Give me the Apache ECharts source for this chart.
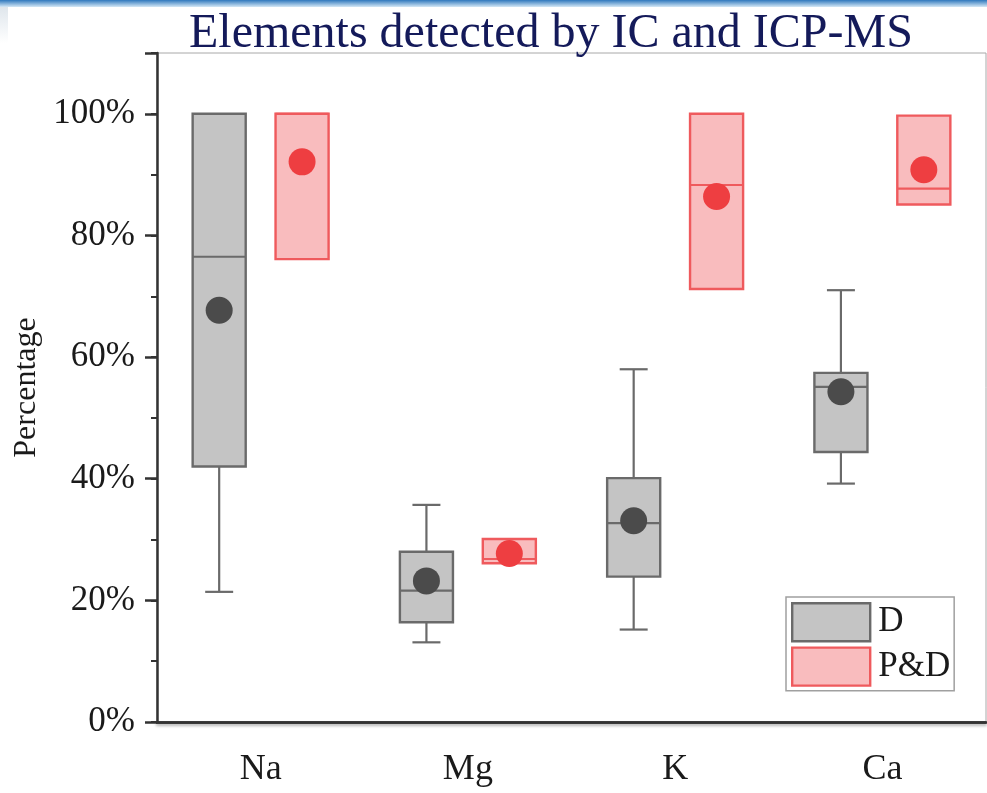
<!DOCTYPE html>
<html>
<head>
<meta charset="utf-8">
<script src="https://cdn.jsdelivr.net/npm/echarts@6/dist/echarts.min.js"></script>
<style>
  html, body { margin: 0; padding: 0; background: #ffffff; }
  #chart { width: 987px; height: 793px; }
</style>
</head>
<body>
<div id="chart"></div>
<script>
// Element categories
const elements = ['Na', 'Mg', 'K', 'Ca'];

// Group D: whisker ends, quartiles, median and mean (percent)
const dLow    = [21.4, 13.1, 15.2, 39.2];
const dQ1     = [42.0, 16.4, 23.9, 44.4];
const dMedian = [76.5, 21.6, 32.7, 55.1];
const dQ3     = [100.0, 28.0, 40.1, 57.4];
const dHigh   = [100.0, 35.7, 58.0, 71.0];
const dMean   = [67.7, 23.2, 33.1, 54.3];

// Group P&D (no whiskers: ends equal the quartiles)
const pdLow    = [76.1, 26.1, 71.2, 85.1];
const pdQ1     = [76.1, 26.1, 71.2, 85.1];
const pdMedian = [100.0, 26.8, 88.3, 87.7];
const pdQ3     = [100.0, 30.1, 100.0, 99.7];
const pdHigh   = [100.0, 30.1, 100.0, 99.7];
const pdMean   = [92.1, 27.7, 86.4, 90.8];

// Y axis tick labels
const yTicks = [0, 20, 40, 60, 80, 100];

const SERIF = '"Liberation Serif", "Times New Roman", serif';

function rows(low, q1, med, q3, high, mean) {
  return elements.map((_, i) => [i, low[i], q1[i], med[i], q3[i], high[i], mean[i]]);
}

function makeRenderer(look) {
  return function (params, api) {
    const cat = api.value(0);
    const band = api.size([1, 0])[0];
    const cx = api.coord([cat, 0])[0] + look.shift * band;
    const w = band * 0.256;
    const cap = band * 0.135;
    const y = (k) => api.coord([cat, api.value(k)])[1];
    const yLow = y(1), yQ1 = y(2), yMed = y(3), yQ3 = y(4), yHigh = y(5), yMean = y(6);
    const children = [];
    const wl = { stroke: look.line, lineWidth: 2.2 };
    if (Math.abs(yLow - yQ1) > 0.5) {
      children.push({ type: 'line', shape: { x1: cx, y1: yQ1, x2: cx, y2: yLow }, style: wl });
      children.push({ type: 'line', shape: { x1: cx - cap / 2, y1: yLow, x2: cx + cap / 2, y2: yLow }, style: wl });
    }
    if (Math.abs(yHigh - yQ3) > 0.5) {
      children.push({ type: 'line', shape: { x1: cx, y1: yQ3, x2: cx, y2: yHigh }, style: wl });
      children.push({ type: 'line', shape: { x1: cx - cap / 2, y1: yHigh, x2: cx + cap / 2, y2: yHigh }, style: wl });
    }
    children.push({
      type: 'rect',
      shape: { x: cx - w / 2, y: yQ3, width: w, height: yQ1 - yQ3 },
      style: { fill: look.fill, stroke: look.line, lineWidth: 2.4 }
    });
    children.push({ type: 'line', shape: { x1: cx - w / 2, y1: yMed, x2: cx + w / 2, y2: yMed }, style: wl });
    children.push({ type: 'circle', shape: { cx: cx, cy: yMean, r: 13.5 }, style: { fill: look.dot } });
    return { type: 'group', children: children };
  };
}

const lookD  = { shift: -0.2, fill: '#c4c4c4', line: '#6a6a6a', dot: '#4b4b4b' };
const lookPD = { shift: 0.2, fill: '#f9bcbe', line: '#ef5a5d', dot: '#ee3e41' };

const chart = echarts.init(document.getElementById('chart'), null, { renderer: 'canvas' });

const option = {
  animation: false,
  backgroundColor: '#ffffff',
  graphic: [
    {
      type: 'rect', left: 0, top: 0, z: -10,
      shape: { width: 987, height: 7 },
      style: {
        fill: new echarts.graphic.LinearGradient(0, 0, 0, 1, [
          { offset: 0, color: '#2f78bd' },
          { offset: 1, color: '#d4e8f6' }
        ])
      }
    },
    {
      type: 'rect', left: 0, top: 7, z: -10,
      shape: { width: 8, height: 36 },
      style: {
        fill: new echarts.graphic.LinearGradient(0, 0, 0, 1, [
          { offset: 0, color: '#dfe6ec' },
          { offset: 1, color: '#ffffff' }
        ])
      }
    },
    {
      type: 'text', left: 189, top: 10,
      style: {
        text: 'Elements detected by IC and ICP-MS',
        font: '48px ' + SERIF,
        fill: '#141a5a'
      }
    }
  ],
  grid: {
    left: 157, right: 1, top: 53, bottom: 71,
    show: true, borderColor: '#a8a8a8', borderWidth: 1
  },
  legend: {
    orient: 'vertical',
    left: 786, top: 597,
    padding: [5, 4, 4, 5],
    itemWidth: 78, itemHeight: 38, itemGap: 4,
    backgroundColor: '#ffffff',
    borderColor: '#a0a0a0', borderWidth: 1.5,
    textStyle: { fontFamily: SERIF, fontSize: 35, color: '#1a1a1a', padding: [0, 0, 0, 3] },
    data: [
      { name: 'D', icon: 'rect', itemStyle: { color: '#c4c4c4', borderColor: '#6a6a6a', borderWidth: 2.4 } },
      { name: 'P&D', icon: 'rect', itemStyle: { color: '#f9bcbe', borderColor: '#ef5a5d', borderWidth: 2.4 } }
    ]
  },
  xAxis: [
    {
      type: 'category',
      data: elements,
      position: 'bottom',
      axisLine: { lineStyle: { color: '#333333', width: 2.5 } },
      axisTick: { alignWithLabel: true, length: 11, lineStyle: { color: '#333333', width: 2.5 } },
      axisLabel: { fontFamily: SERIF, fontSize: 36, color: '#1a1a1a', margin: 30 },
      splitLine: { show: false }
    },
    {
      type: 'category',
      data: elements,
      position: 'top',
      axisLine: {
        lineStyle: { color: '#333333', width: 2.5, shadowColor: 'rgba(0,0,0,0.35)', shadowBlur: 3, shadowOffsetY: 2 }
      },
      axisTick: { show: false },
      axisLabel: { show: false }
    }
  ],
  yAxis: [
    {
      type: 'value',
      min: 0, max: 110, interval: 20,
      name: 'Percentage',
      nameLocation: 'middle',
      nameGap: 112,
      nameTextStyle: { fontFamily: SERIF, fontSize: 32, color: '#1a1a1a' },
      axisLine: { show: true, lineStyle: { color: '#333333', width: 2.5 } },
      axisTick: { show: true, length: 12, lineStyle: { color: '#333333', width: 2.5 } },
      axisLabel: {
        fontFamily: SERIF, fontSize: 35, color: '#1a1a1a', margin: 22,
        formatter: (v) => (yTicks.indexOf(v) >= 0 ? v + '%' : '')
      },
      splitLine: { show: false }
    },
    {
      type: 'value',
      min: 0, max: 110, interval: 10,
      position: 'left',
      axisLine: { show: false },
      axisTick: { show: true, length: 6, lineStyle: { color: '#333333', width: 2 } },
      axisLabel: { show: false },
      splitLine: { show: false }
    }
  ],
  series: [
    {
      name: 'D',
      type: 'custom',
      renderItem: makeRenderer(lookD),
      itemStyle: { color: '#c4c4c4', borderColor: '#6a6a6a' },
      encode: { x: 0, y: [1, 2, 3, 4, 5, 6] },
      data: rows(dLow, dQ1, dMedian, dQ3, dHigh, dMean)
    },
    {
      name: 'P&D',
      type: 'custom',
      renderItem: makeRenderer(lookPD),
      itemStyle: { color: '#f9bcbe', borderColor: '#ef5a5d' },
      encode: { x: 0, y: [1, 2, 3, 4, 5, 6] },
      data: rows(pdLow, pdQ1, pdMedian, pdQ3, pdHigh, pdMean)
    }
  ]
};

chart.setOption(option);
</script>
</body>
</html>
